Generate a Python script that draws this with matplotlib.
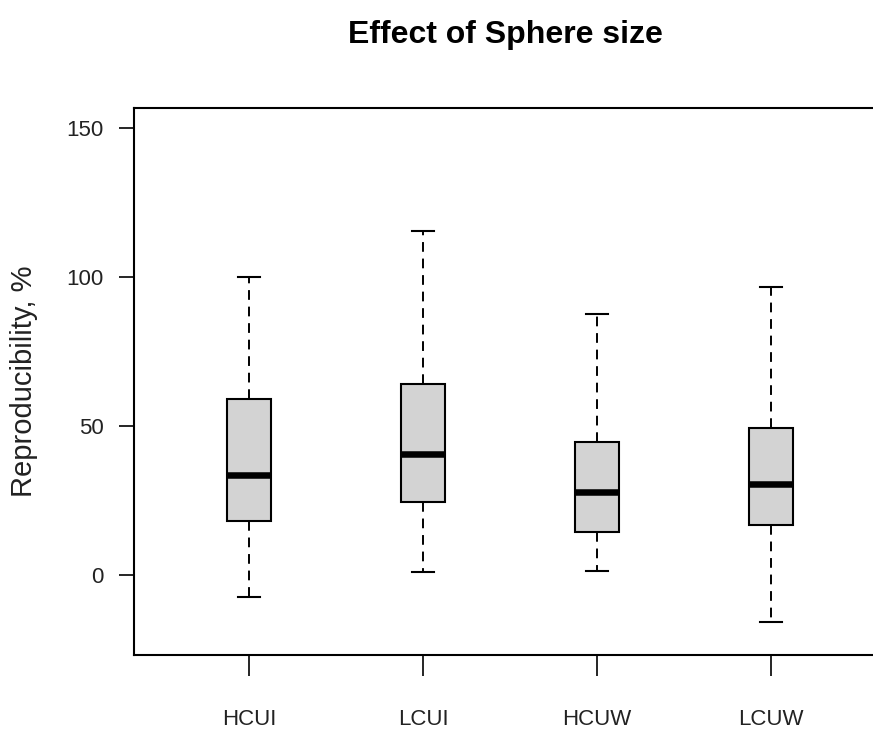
import matplotlib.pyplot as plt

groups = ['HCUI', 'LCUI', 'HCUW', 'LCUW']
whisk_lo = [-7.5, 0.9, 1.5, -15.8]
q1 = [18.2, 24.4, 14.6, 16.9]
medians = [33.6, 40.5, 27.9, 30.7]
q3 = [59.2, 64.2, 44.8, 49.5]
whisk_hi = [100.2, 115.5, 87.8, 96.8]

font = ['Liberation Sans', 'DejaVu Sans']

stats = []
for i, name in enumerate(groups):
    stats.append({'label': name, 'whislo': whisk_lo[i], 'q1': q1[i],
                  'med': medians[i], 'q3': q3[i], 'whishi': whisk_hi[i],
                  'fliers': []})

fig = plt.figure(figsize=(8.73, 7.29), dpi=100)
# right edge of the frame falls outside the picture, as in the reference
ax = fig.add_axes([134 / 873, 74 / 729, 752 / 873, 547 / 729])

ax.bxp(stats, positions=[1, 2, 3, 4], widths=0.25, patch_artist=True,
       boxprops=dict(facecolor='#d3d3d3', edgecolor='black', linewidth=1.5),
       medianprops=dict(color='black', linewidth=4.7, solid_capstyle='butt'),
       whiskerprops=dict(color='black', linewidth=1.4, linestyle=(0, (5, 3.5))),
       capprops=dict(color='black', linewidth=1.5),
       capwidths=0.13)

ax.set_xlim(0.34, 4.66)
ax.set_ylim(-26.8, 156.8)
ax.set_yticks([0, 50, 100, 150])

for s in ax.spines.values():
    s.set_linewidth(1.5)

ax.tick_params(axis='y', length=11, width=1.2, pad=11, labelsize=16)
ax.tick_params(axis='x', length=15, width=1.2, pad=24, labelsize=16)
for lab in ax.get_xticklabels() + ax.get_yticklabels():
    lab.set_family(font)
    lab.set_color('#222222')

ax.set_ylabel('Reproducibility, %', fontsize=21, family=font,
              color='#222222')
ax.yaxis.set_label_coords(-(134 - 38) / 752, 0.5)
fig.text(505 / 873, 1 - 35 / 729, 'Effect of Sphere size', ha='center',
         va='center', fontsize=23, fontweight='bold', family=font)

fig.savefig('out.png', dpi=100)
